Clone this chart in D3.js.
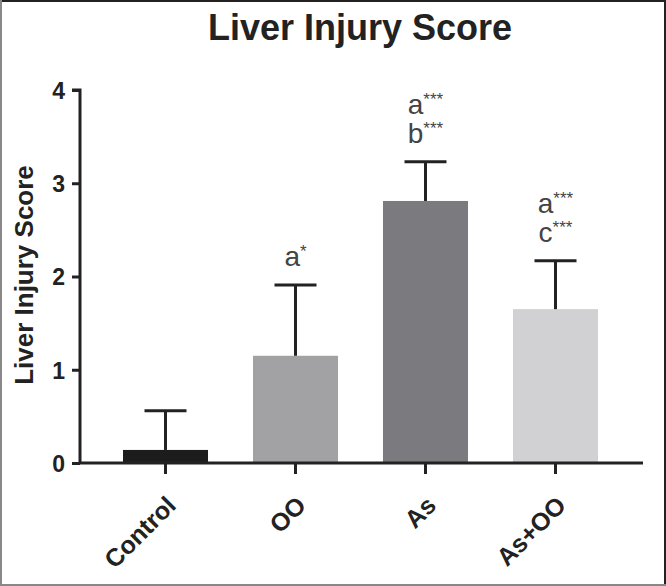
<!DOCTYPE html>
<html>
<head>
<meta charset="utf-8">
<script src="https://cdn.jsdelivr.net/npm/d3@7"></script>
<style>
  body { margin: 0; background: #fff; }
  svg { display: block; font-family: "Liberation Sans", Arial, sans-serif; }
</style>
</head>
<body>
<div id="chart"></div>
<script>
var groups = ["Control", "OO", "As", "As+OO"], //bar categories
    means = [0.14, 1.15, 2.81, 1.65],
    errTops = [0.56, 1.91, 3.23, 2.17],
    barColors = ["#1c1c1c", "#a2a2a4", "#7b7b7f", "#d1d1d3"],
    yTicks = [0, 1, 2, 3, 4],
    //annotation lines above each bar: [letter, stars]
    annots = [[], [["a", "*"]], [["a", "***"], ["b", "***"]], [["a", "***"], ["c", "***"]]];

//chart frame dimensions
var width = 666,
    height = 586,
    axisLeft = 80,
    axisRight = 643,
    zeroY = 463,
    topY = 90;

var svg = d3.select("#chart")
    .append("svg")
    .attr("width", width)
    .attr("height", height);

//outer frame
svg.append("rect").attr("x", 0).attr("y", 0).attr("width", width).attr("height", height).attr("fill", "#fff");
svg.append("line").attr("x1", 0).attr("x2", width).attr("y1", 1).attr("y2", 1).attr("stroke", "#222").attr("stroke-width", 2);
svg.append("line").attr("x1", 1).attr("x2", 1).attr("y1", 0).attr("y2", height).attr("stroke", "#888").attr("stroke-width", 2);
svg.append("line").attr("x1", 665).attr("x2", 665).attr("y1", 0).attr("y2", height).attr("stroke", "#222").attr("stroke-width", 2);
svg.append("line").attr("x1", 0).attr("x2", width).attr("y1", 585).attr("y2", 585).attr("stroke", "#888").attr("stroke-width", 2);

//scales
var y = d3.scaleLinear()
    .domain([0, 4])
    .range([zeroY, topY]);

var x = d3.scaleBand()
    .domain(groups)
    .range([123, 598])
    .paddingInner(0.346)
    .paddingOuter(0);

//title
svg.append("text")
    .attr("x", 360)
    .attr("y", 40)
    .attr("text-anchor", "middle")
    .style("font-size", "36px")
    .style("font-weight", "bold")
    .style("fill", "#222")
    .text("Liver Injury Score");

//bars
svg.selectAll("rect.bar")
    .data(groups)
    .enter()
    .append("rect")
    .attr("class", "bar")
    .attr("x", function(d) { return x(d); })
    .attr("y", function(d, i) { return y(means[i]); })
    .attr("width", x.bandwidth())
    .attr("height", function(d, i) { return y(0) - y(means[i]); })
    .style("fill", function(d, i) { return barColors[i]; });

//error bars (upper only)
var errG = svg.append("g").attr("stroke", "#222").attr("stroke-width", 3);
groups.forEach(function(g, i) {
    var cx = x(g) + x.bandwidth() / 2;
    errG.append("line")
        .attr("x1", cx).attr("x2", cx)
        .attr("y1", y(means[i])).attr("y2", y(errTops[i]));
    errG.append("line")
        .attr("x1", cx - 21).attr("x2", cx + 21)
        .attr("y1", y(errTops[i])).attr("y2", y(errTops[i]));
});

//y axis
var yAxis = svg.append("g")
    .attr("transform", "translate(" + axisLeft + ",0)")
    .call(d3.axisLeft(y).tickValues(yTicks).tickSize(8).tickPadding(7).tickFormat(d3.format("d")));
yAxis.select(".domain").attr("stroke", "#222").attr("stroke-width", 3).attr("d", "M-8," + y(4) + "H0V" + y(0));
yAxis.selectAll(".tick line").attr("stroke", "#222").attr("stroke-width", 3);
yAxis.selectAll(".tick text")
    .style("font-size", "23px")
    .style("font-weight", "bold")
    .style("fill", "#222")
    .attr("dy", "0.36em");

//x axis
var xAxis = svg.append("g")
    .attr("transform", "translate(0," + zeroY + ")")
    .call(d3.axisBottom(x).tickSize(11).tickPadding(6));
xAxis.select(".domain").attr("stroke", "#222").attr("stroke-width", 3).attr("d", "M" + axisLeft + ",0H" + axisRight);
xAxis.selectAll(".tick line").attr("stroke", "#222").attr("stroke-width", 3);
xAxis.selectAll(".tick text")
    .style("font-size", "25px")
    .style("font-weight", "bold")
    .style("fill", "#222")
    .attr("text-anchor", "end")
    .attr("dy", "0")
    .attr("transform", "translate(0,32) rotate(-45)");

//y axis label
svg.append("text")
    .attr("transform", "translate(33,275) rotate(-90)")
    .attr("text-anchor", "middle")
    .style("font-size", "26px")
    .style("font-weight", "bold")
    .style("fill", "#222")
    .text("Liver Injury Score");

//significance annotations
groups.forEach(function(g, i) {
    var cx = x(g) + x.bandwidth() / 2;
    var lines = annots[i];
    lines.forEach(function(a, j) {
        var base = y(errTops[i]) - 19 - (lines.length - 1 - j) * 29;
        var t = svg.append("text")
            .attr("x", cx)
            .attr("y", base)
            .attr("text-anchor", "middle")
            .style("font-size", "28px")
            .style("fill", "#444");
        t.append("tspan").text(a[0]);
        t.append("tspan")
            .attr("dy", "-0.5em")
            .style("font-size", "17px")
            .text(a[1]);
    });
});
</script>
</body>
</html>
